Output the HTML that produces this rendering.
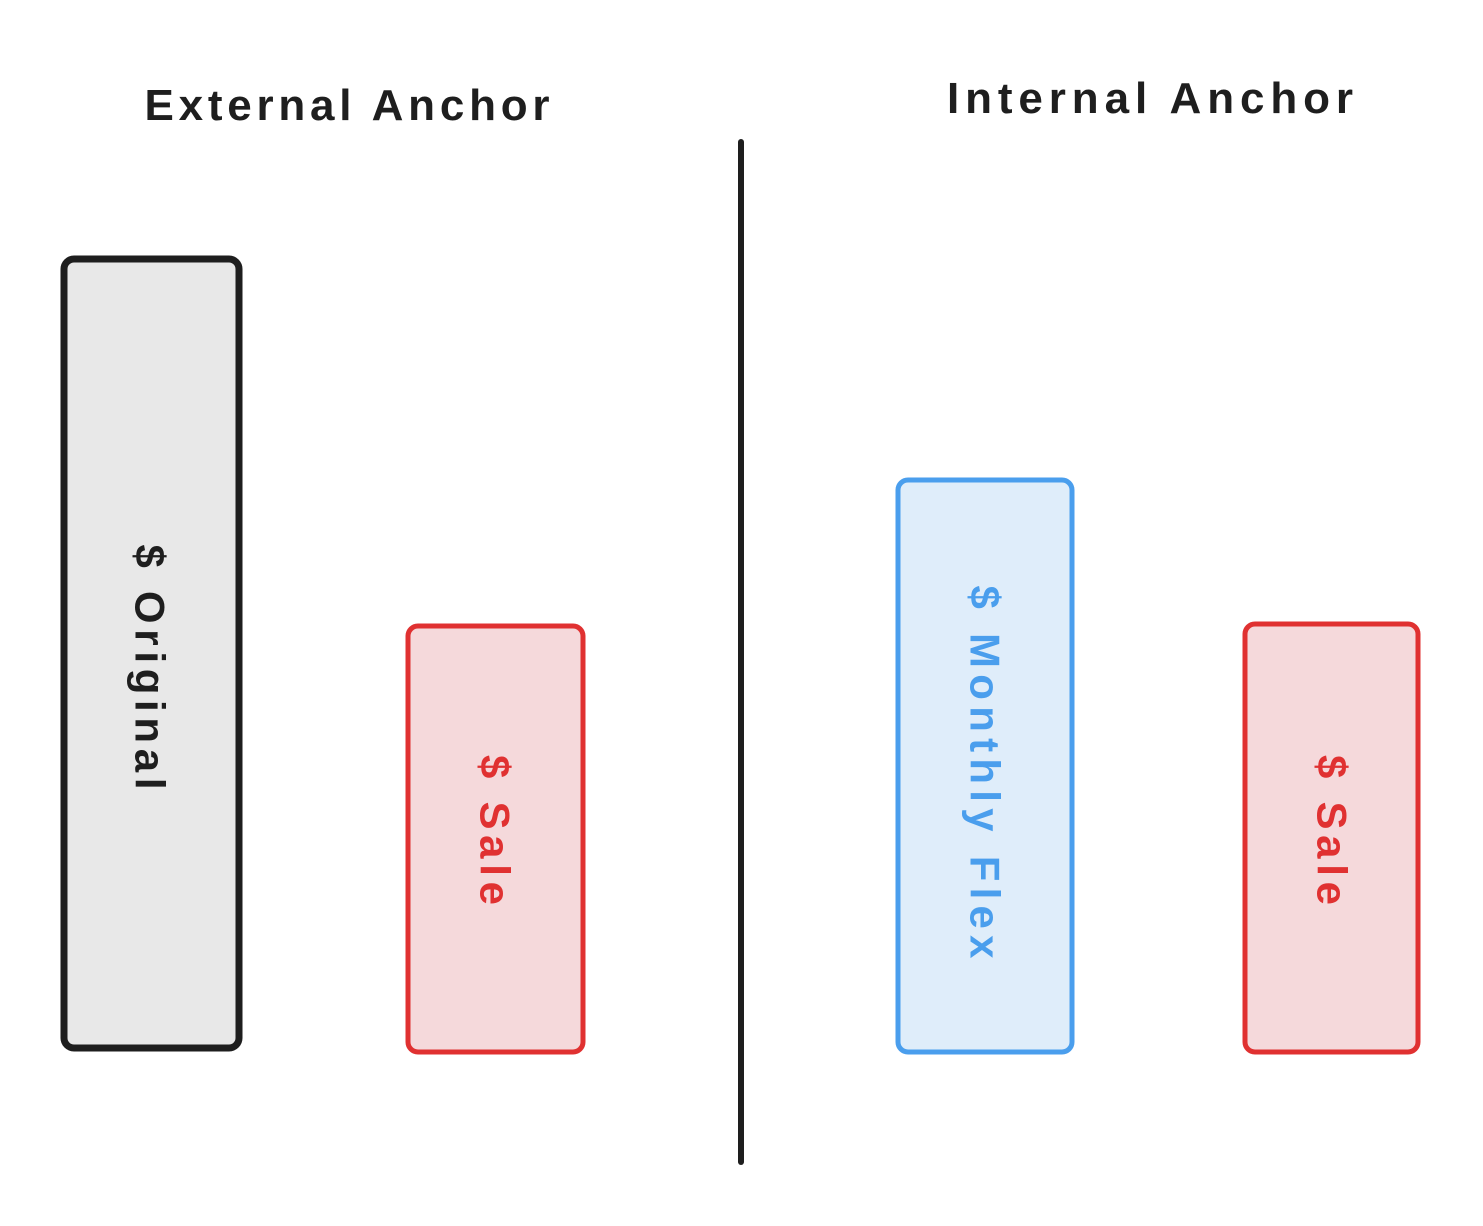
<!DOCTYPE html>
<html><head><meta charset="utf-8"><style>
html,body{margin:0;padding:0;background:#fff;}
svg{display:block;}
text{font-family:"Liberation Sans",sans-serif;font-weight:bold;}
</style></head><body>
<svg width="1483" height="1226" viewBox="0 0 1483 1226" xmlns="http://www.w3.org/2000/svg">
<rect width="1483" height="1226" fill="#fff"/>
<text x="347" y="120" font-size="44" text-anchor="middle" textLength="405" lengthAdjust="spacing" fill="#1e1e1e">External Anchor</text>
<text x="1150" y="113" font-size="44" text-anchor="middle" textLength="406" lengthAdjust="spacing" fill="#1e1e1e">Internal Anchor</text>
<line x1="741" y1="142" x2="741" y2="1162" stroke="#1e1e1e" stroke-width="6" stroke-linecap="round"/>

<rect x="64" y="259" width="175" height="789" rx="10" fill="#e8e8e8" stroke="#1e1e1e" stroke-width="7"/>
<text transform="translate(150,667) rotate(90)" font-size="42" text-anchor="middle" dominant-baseline="central" textLength="245" lengthAdjust="spacing" fill="#1e1e1e">$ Original</text>

<rect x="408" y="626" width="175" height="426" rx="10" fill="#f5d9db" stroke="#e03131" stroke-width="5"/>
<text transform="translate(495,830) rotate(90)" font-size="42" text-anchor="middle" dominant-baseline="central" textLength="150" lengthAdjust="spacing" fill="#e03131">$ Sale</text>

<rect x="898" y="480" width="174" height="572" rx="10" fill="#dfedfa" stroke="#4a9eed" stroke-width="5"/>
<text transform="translate(985,772) rotate(90)" font-size="42" text-anchor="middle" dominant-baseline="central" textLength="373" lengthAdjust="spacing" fill="#4a9eed">$ Monthly Flex</text>

<rect x="1245" y="624" width="173" height="428" rx="10" fill="#f5d9db" stroke="#e03131" stroke-width="5"/>
<text transform="translate(1332,830) rotate(90)" font-size="42" text-anchor="middle" dominant-baseline="central" textLength="150" lengthAdjust="spacing" fill="#e03131">$ Sale</text>
</svg>
</body></html>
